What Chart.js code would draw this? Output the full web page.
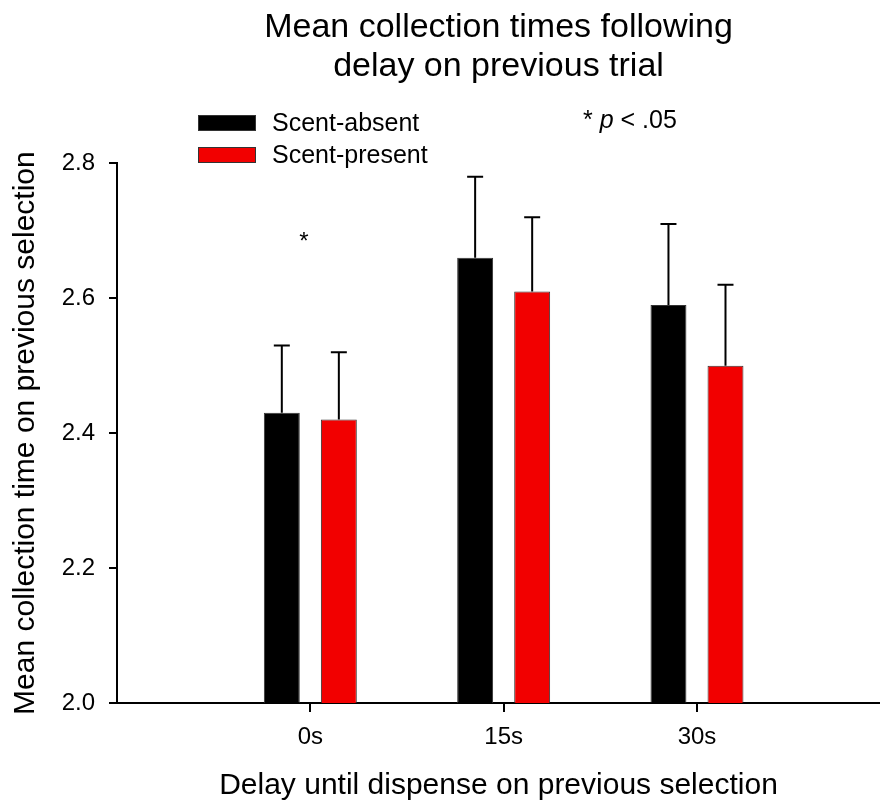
<!DOCTYPE html>
<html>
<head>
<meta charset="utf-8">
<script src="https://cdn.jsdelivr.net/npm/chart.js@4.4.1/dist/chart.umd.min.js"></script>
<style>body{margin:0;background:#fff}</style>
</head>
<body>
<canvas id="delayChart" width="880" height="804"></canvas>
<script>
const delays = [0, 15, 30];
const delayLabels = ['0s', '15s', '30s'];
const scentAbsent = [2.43, 2.66, 2.59];
const scentAbsentErr = [0.10, 0.12, 0.12];
const scentPresent = [2.42, 2.61, 2.50];
const scentPresentErr = [0.10, 0.11, 0.12];
const yTicks = [2.0, 2.2, 2.4, 2.6, 2.8];

Chart.defaults.font.family = '"Liberation Sans", Arial, sans-serif';
Chart.defaults.color = '#000';

// upper whiskers only, like the original figure
const errorBars = {
    id: 'errorBars',
    afterDatasetsDraw(chart) {
        const ctx = chart.ctx;
        const yScale = chart.scales.y;
        chart.data.datasets.forEach((ds, di) => {
            chart.getDatasetMeta(di).data.forEach((bar, i) => {
                const top = yScale.getPixelForValue(ds.data[i].y + ds.errors[i]);
                ctx.save();
                ctx.strokeStyle = '#000';
                ctx.lineWidth = 2;
                ctx.beginPath();
                ctx.moveTo(bar.x, bar.y);
                ctx.lineTo(bar.x, top);
                ctx.moveTo(bar.x - 8, top);
                ctx.lineTo(bar.x + 8, top);
                ctx.stroke();
                ctx.restore();
            });
        });
    }
};

// legend box and significance notes
const notes = {
    id: 'notes',
    afterDraw(chart) {
        const ctx = chart.ctx;
        ctx.save();
        ctx.font = '25px "Liberation Sans", Arial';
        ctx.textBaseline = 'middle';
        chart.data.datasets.forEach((ds, i) => {
            const y = 115 + i * 32;
            ctx.fillStyle = ds.backgroundColor;
            ctx.strokeStyle = '#333';
            ctx.lineWidth = 1;
            ctx.fillRect(198, y, 58, 16);
            ctx.strokeRect(198.5, y + 0.5, 57, 15);
            ctx.fillStyle = '#000';
            ctx.fillText(ds.label, 272, y + 9);
        });

        // * p < .05
        ctx.textBaseline = 'alphabetic';
        let x = 583;
        const parts = [['* ', ''], ['p', 'italic '], [' < .05', '']];
        parts.forEach(([t, style]) => {
            ctx.font = style + '25px "Liberation Sans", Arial';
            ctx.fillText(t, x, 128);
            x += ctx.measureText(t).width;
        });

        // asterisk over the 0s group
        const xs = chart.scales.x, ys = chart.scales.y;
        ctx.font = '24px "Liberation Sans", Arial';
        ctx.textAlign = 'center';
        ctx.fillText('*', xs.getPixelForValue(-0.5), ys.getPixelForValue(2.69) + 12);
        ctx.restore();
    }
};

const ctx = document.getElementById('delayChart').getContext('2d');
const delayChart = new Chart(ctx, {
    type: 'bar',
    data: {
        datasets: [{
            label: 'Scent-absent',
            data: delays.map((d, i) => ({ x: d, y: scentAbsent[i] })),
            errors: scentAbsentErr,
            backgroundColor: '#000000',
            borderColor: '#333333',
            borderWidth: 1
        }, {
            label: 'Scent-present',
            data: delays.map((d, i) => ({ x: d, y: scentPresent[i] })),
            errors: scentPresentErr,
            backgroundColor: '#f20000',
            borderColor: '#333333',
            borderWidth: 1
        }]
    },
    options: {
        responsive: false,
        animation: false,
        categoryPercentage: 0.59,
        barPercentage: 0.63,
        layout: { padding: 0 },
        plugins: {
            legend: { display: false },
            tooltip: { enabled: false },
            title: {
                display: true,
                fullSize: false,
                text: ['Mean collection times following', 'delay on previous trial'],
                font: { size: 34, weight: 'normal', lineHeight: 1.15 },
                color: '#000',
                padding: { top: 8, bottom: 77 }
            }
        },
        scales: {
            x: {
                type: 'linear',
                offset: false,
                min: -15,
                max: 44.2,
                afterBuildTicks: (scale) => { scale.ticks = delays.map(v => ({ value: v })); },
                afterFit: (scale) => { scale.height = 101; },
                ticks: {
                    font: { size: 24 },
                    padding: 11,
                    callback: (v) => delayLabels[delays.indexOf(v)]
                },
                grid: { drawOnChartArea: false, tickLength: 9, lineWidth: 2, color: '#000', offset: false },
                border: { color: '#000', width: 2 },
                title: {
                    display: true,
                    text: 'Delay until dispense on previous selection',
                    font: { size: 30 },
                    padding: { top: 0, bottom: 0 }
                }
            },
            y: {
                min: 2.0,
                max: 2.8,
                afterBuildTicks: (scale) => { scale.ticks = yTicks.map(v => ({ value: v })); },
                afterFit: (scale) => { scale.width = 117; },
                ticks: {
                    font: { size: 24 },
                    padding: 14,
                    callback: (v) => v.toFixed(1)
                },
                grid: { drawOnChartArea: false, tickLength: 8, lineWidth: 2, color: '#000' },
                border: { color: '#000', width: 2 },
                title: {
                    display: true,
                    text: 'Mean collection time on previous selection',
                    font: { size: 30 },
                    padding: { top: 8, bottom: 0 }
                }
            }
        }
    },
    plugins: [errorBars, notes]
});
</script>
</body>
</html>
